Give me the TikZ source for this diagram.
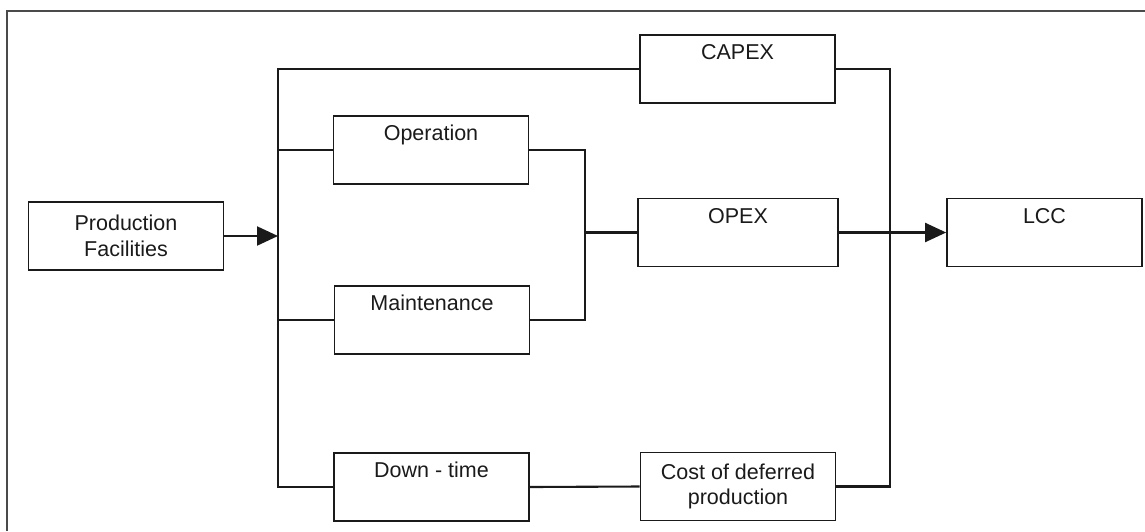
\documentclass[tikz,border=0pt]{standalone}
\usepackage{fontspec}
\setmainfont{Liberation Sans}
\usetikzlibrary{arrows.meta}
\definecolor{ink}{HTML}{1A1A1A}
\definecolor{framec}{HTML}{4A4A4A}
\tikzset{
  boxbase/.style={draw=ink, line width=1.7pt, rectangle, minimum width=195pt, minimum height=68pt,
    font=\fontsize{21.5}{26}\selectfont, text=ink},
  topbox/.style={boxbase, inner xsep=0pt, inner ysep=0pt, text height=24.5pt, text depth=43.5pt},
  twobox/.style={boxbase, align=center, inner sep=0pt},
  conn/.style={draw=ink, line width=2.1pt},
  arr/.style={conn, -{Triangle[length=21pt,width=19pt]}},
  framel/.style={draw=framec, line width=2.2pt}
}
\begin{document}
\begin{tikzpicture}[x=1pt,y=-1pt]
\useasboundingbox (0,0) rectangle (1145,531);
\draw[framel] (7,531) -- (7,11) -- (1145,11);

\node[twobox] (pf) at (126,236) {Production\\Facilities};
\node[topbox] (capex) at (737.5,69) {CAPEX};
\node[topbox] (op) at (431,150) {Operation};
\node[topbox, minimum width=200pt] (opex) at (738,232.5) {OPEX};
\node[topbox] (lcc) at (1044.5,232.5) {LCC};
\node[topbox] (mt) at (432,320) {Maintenance};
\node[topbox] (down) at (431.5,487) {Down - time};
\node[twobox] (cost) at (738,486.5) {Cost of deferred\\[-1pt]production};

\coordinate (bl) at (278,0);
\coordinate (bm) at (585,0);
\coordinate (br) at (890,0);

\draw[arr] (pf.east) -- (bl |- pf.east);
\draw[conn] (capex.west) -- (bl |- capex.west) -- (bl |- down.west) -- (down.west);
\draw[conn] (bl |- op.west) -- (op.west);
\draw[conn] (bl |- mt.west) -- (mt.west);

\draw[conn] (op.east) -- (bm |- op.east) -- (bm |- mt.east) -- (mt.east);
\draw[conn] (bm |- opex.west) -- (opex.west);

\draw[conn] (capex.east) -- (br |- capex.east) -- (br |- cost.east) -- (cost.east);
\draw[conn] (down.east) -- (cost.west);
\draw[arr] (opex.east) -- (lcc.west);
\end{tikzpicture}
\end{document}
